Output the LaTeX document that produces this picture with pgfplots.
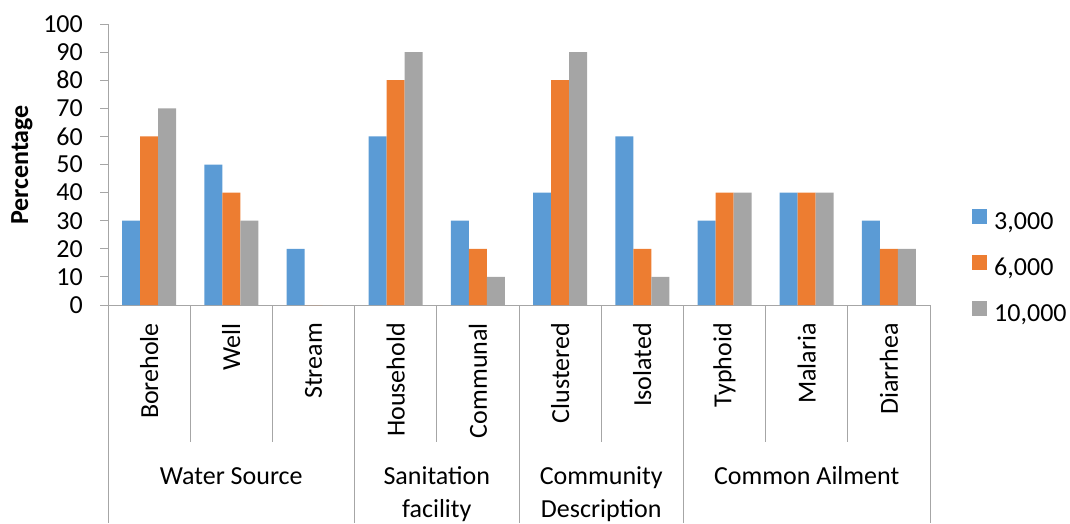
\documentclass[border=0pt]{standalone}
\usepackage{pgfplots}
\pgfplotsset{compat=1.18}
\usepackage{fontspec}
\setmainfont{Carlito}
\definecolor{cA}{HTML}{5B9BD5}
\definecolor{cB}{HTML}{ED7D31}
\definecolor{cC}{HTML}{A5A5A5}
\definecolor{axisgray}{HTML}{A6A6A6}
\newcommand{\fs}{\fontsize{26}{31}\selectfont}
\begin{document}
\begin{tikzpicture}
\path[use as bounding box] (0,0) rectangle (1070pt,523pt);
\begin{axis}[
  at={(108pt,218pt)}, anchor=south west,
  scale only axis, width=822pt, height=281pt,
  xmin=-0.5, xmax=9.5, ymin=0, ymax=100,
  ybar=0pt, bar width=18pt,
  axis x line*=bottom, axis y line*=left,
  axis line style={draw=axisgray, line width=1pt},
  xtick=\empty,
  ytick={0,10,...,100},
  ytick style={draw=axisgray, line width=1pt},
  tick align=outside, major tick length=8pt,
  yticklabel style={anchor=east, inner sep=0pt},
  yticklabel shift=17pt,
  /pgf/number format/assume math mode=true,
  tick label style={font=\fs},
  legend style={at={(1.0511,0.132)}, anchor=west, draw=none, fill=none,
    inner sep=0pt, row sep=20pt,
    nodes={inner sep=0pt, text height=17pt, text depth=5pt, font=\fs},
    /tikz/every odd column/.style={column sep=7pt}},
  legend cell align=left,
  legend image code/.code={\fill[#1] (0pt,0pt) rectangle (15pt,15pt);},
  clip=false,
]
\addplot[fill=cA, draw=none] coordinates {(0,30) (1,50) (2,20) (3,60) (4,30) (5,40) (6,60) (7,30) (8,40) (9,30)};
\addplot[fill=cB, draw=none] coordinates {(0,60) (1,40) (2,0) (3,80) (4,20) (5,80) (6,20) (7,40) (8,40) (9,20)};
\addplot[fill=cC, draw=none] coordinates {(0,70) (1,30) (2,0) (3,90) (4,10) (5,90) (6,10) (7,40) (8,40) (9,20)};
\legend{3{,}000,6{,}000,10{,}000}
\draw[axisgray, line width=1pt] (axis cs:0.5,0) -- ++(0pt,-137pt);
\draw[axisgray, line width=1pt] (axis cs:1.5,0) -- ++(0pt,-137pt);
\draw[axisgray, line width=1pt] (axis cs:3.5,0) -- ++(0pt,-137pt);
\draw[axisgray, line width=1pt] (axis cs:5.5,0) -- ++(0pt,-137pt);
\draw[axisgray, line width=1pt] (axis cs:7.5,0) -- ++(0pt,-137pt);
\draw[axisgray, line width=1pt] (axis cs:8.5,0) -- ++(0pt,-137pt);
\draw[axisgray, line width=1pt] (axis cs:-0.5,0) -- ++(0pt,-218pt);
\draw[axisgray, line width=1pt] (axis cs:2.5,0) -- ++(0pt,-218pt);
\draw[axisgray, line width=1pt] (axis cs:4.5,0) -- ++(0pt,-218pt);
\draw[axisgray, line width=1pt] (axis cs:6.5,0) -- ++(0pt,-218pt);
\draw[axisgray, line width=1pt] (axis cs:9.5,0) -- ++(0pt,-218pt);
\node[rotate=90, anchor=east, font=\fs, inner sep=0pt] at ([yshift=-18pt]axis cs:0,0) {Borehole};
\node[rotate=90, anchor=east, font=\fs, inner sep=0pt] at ([yshift=-18pt]axis cs:1,0) {Well};
\node[rotate=90, anchor=east, font=\fs, inner sep=0pt] at ([yshift=-18pt]axis cs:2,0) {Stream};
\node[rotate=90, anchor=east, font=\fs, inner sep=0pt] at ([yshift=-18pt]axis cs:3,0) {Household};
\node[rotate=90, anchor=east, font=\fs, inner sep=0pt] at ([yshift=-18pt]axis cs:4,0) {Communal};
\node[rotate=90, anchor=east, font=\fs, inner sep=0pt] at ([yshift=-18pt]axis cs:5,0) {Clustered};
\node[rotate=90, anchor=east, font=\fs, inner sep=0pt] at ([yshift=-18pt]axis cs:6,0) {Isolated};
\node[rotate=90, anchor=east, font=\fs, inner sep=0pt] at ([yshift=-18pt]axis cs:7,0) {Typhoid};
\node[rotate=90, anchor=east, font=\fs, inner sep=0pt] at ([yshift=-18pt]axis cs:8,0) {Malaria};
\node[rotate=90, anchor=east, font=\fs, inner sep=0pt] at ([yshift=-18pt]axis cs:9,0) {Diarrhea};
\node[anchor=base, font=\fs, inner sep=0pt] at ([yshift=-179pt]axis cs:1,0) {Water Source};
\node[anchor=base, font=\fs, inner sep=0pt] at ([yshift=-179pt]axis cs:3.5,0) {Sanitation};
\node[anchor=base, font=\fs, inner sep=0pt] at ([yshift=-212pt]axis cs:3.5,0) {facility};
\node[anchor=base, font=\fs, inner sep=0pt] at ([yshift=-179pt]axis cs:5.5,0) {Community};
\node[anchor=base, font=\fs, inner sep=0pt] at ([yshift=-212pt]axis cs:5.5,0) {Description};
\node[anchor=base, font=\fs, inner sep=0pt] at ([yshift=-179pt]axis cs:8,0) {Common Ailment};
\end{axis}
\node[rotate=90, font=\bfseries\fs, inner sep=0pt] at (22pt,358pt) {Percentage};
\end{tikzpicture}
\end{document}
